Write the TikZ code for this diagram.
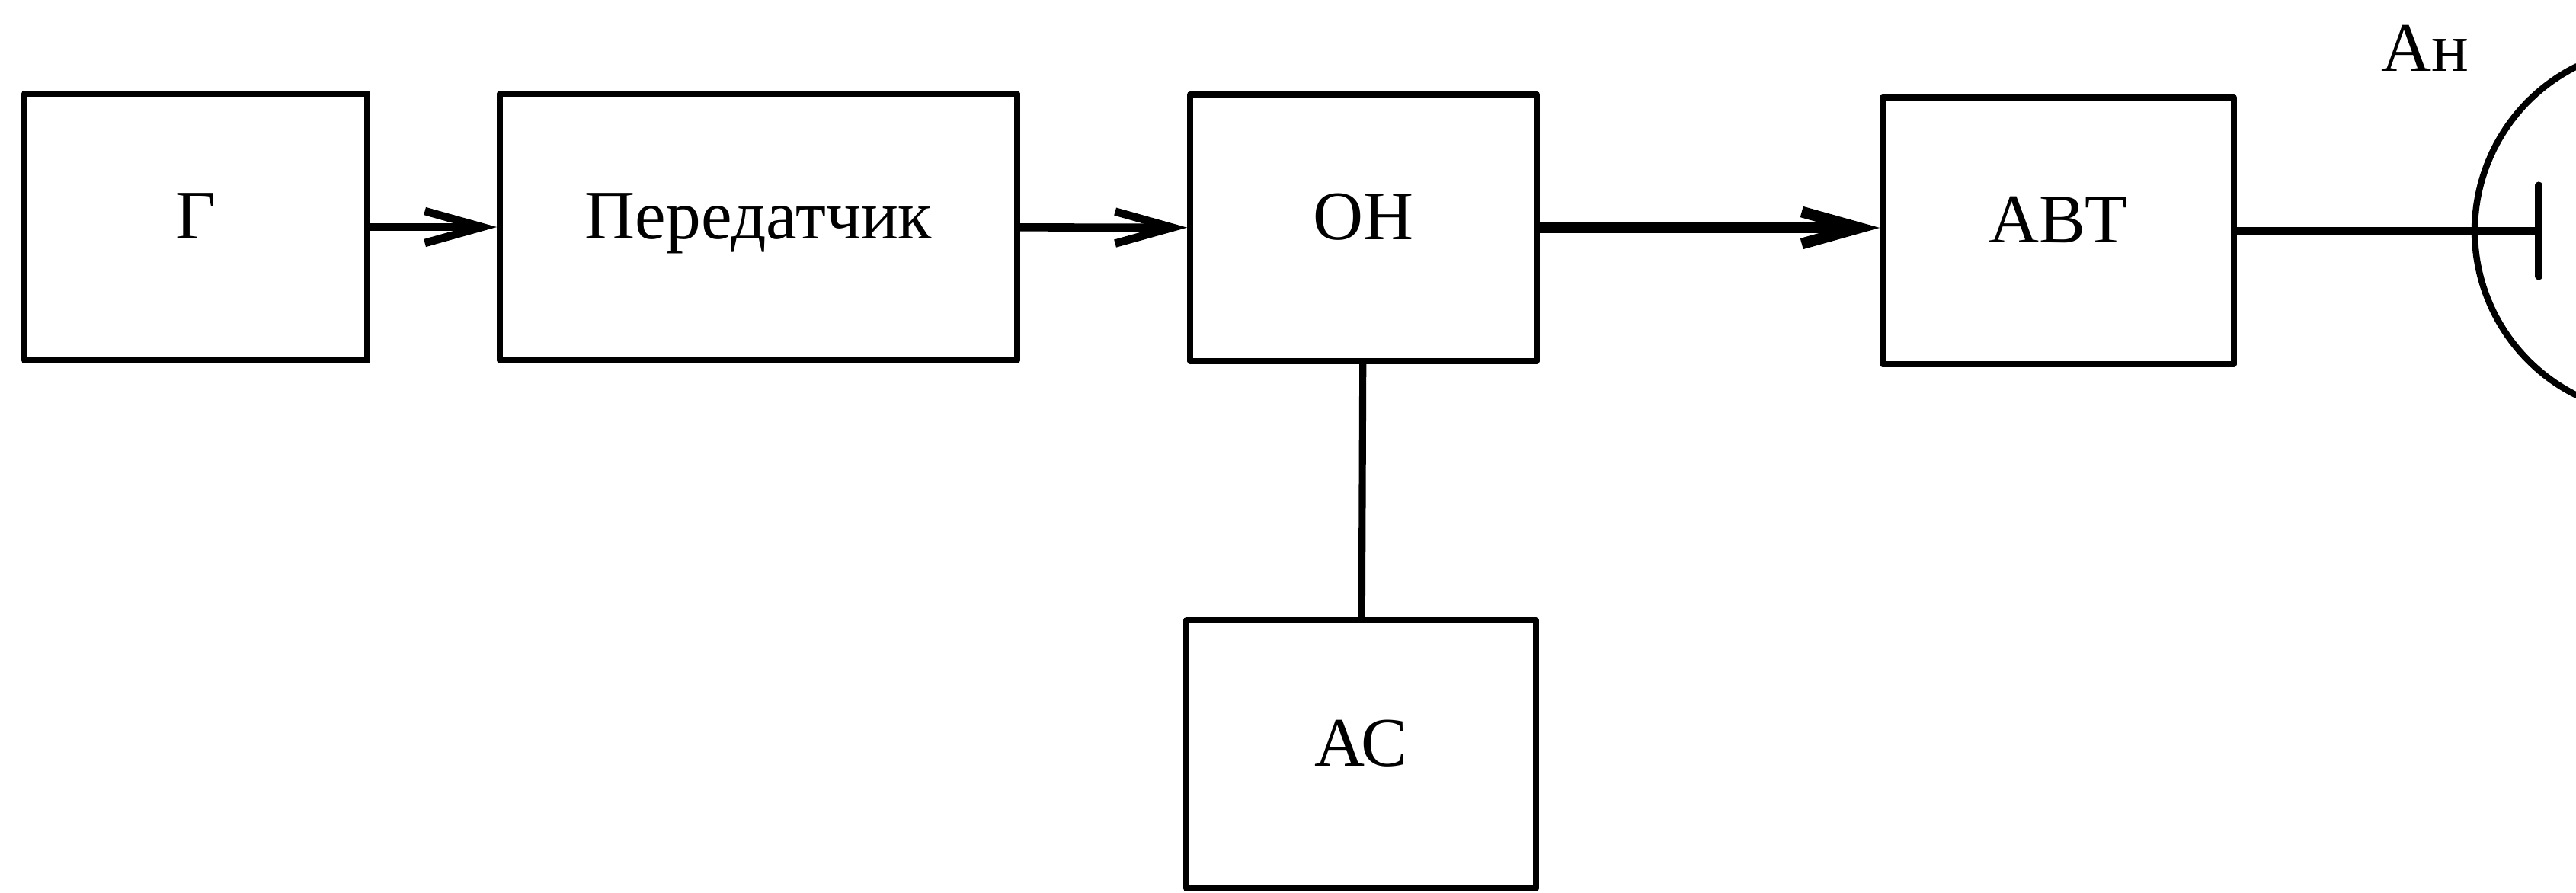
\documentclass[tikz,border=0pt]{standalone}
\usepackage{fontspec}
\setmainfont{Liberation Serif}
\usetikzlibrary{arrows.meta}
\begin{document}
\begin{tikzpicture}[scale=1, font=\fontsize{26}{30}\selectfont, line join=round, line cap=round,
	>={Straight Barb[length=0.75cm,width=0.42cm]},
	blok/.style={draw, line width=2.2pt, minimum height=3.5cm, inner sep=0pt, text height=0.66cm, text depth=0.35cm}]
	\useasboundingbox (0,0) rectangle (33.81,11.71);
	\node[blok, minimum width=4.5cm] (G) at (2.57,8.73) {Г};
	\node[blok, minimum width=6.79cm] (Per) at (9.955,8.73) {Передатчик};
	\node[blok, minimum width=4.55cm] (ON) at (17.895,8.72) {ОН};
	\node[blok, minimum width=4.61cm] (AVT) at (27.015,8.68) {АВТ};
	\node[blok, minimum width=4.59cm, minimum height=3.52cm] (AS) at (17.865,1.81) {АС};
	\draw[->, line width=3pt] (G) -- (Per);
	\draw[->, line width=3pt] (Per) -- (ON);
	\draw[->, line width=4.2pt] (ON.east) -- (ON.east -| AVT.west);
	\draw[line width=2.6pt] (ON) -- (AS);
	% antenna
	\coordinate (bar) at (33.32,8.68);
	\coordinate (ant) at (34.89,8.68);
	\draw[line width=2.6pt] (AVT) -- (bar);
	\draw[line width=2.6pt] ([yshift=0.6cm]bar) -- ([yshift=-0.6cm]bar);
	\draw[line width=2.4pt] (ant) ++(116.4:2.41) arc (116.4:243.6:2.41);
	\node (An) at (31.83,11.08) {Ан};
\end{tikzpicture}
\end{document}
